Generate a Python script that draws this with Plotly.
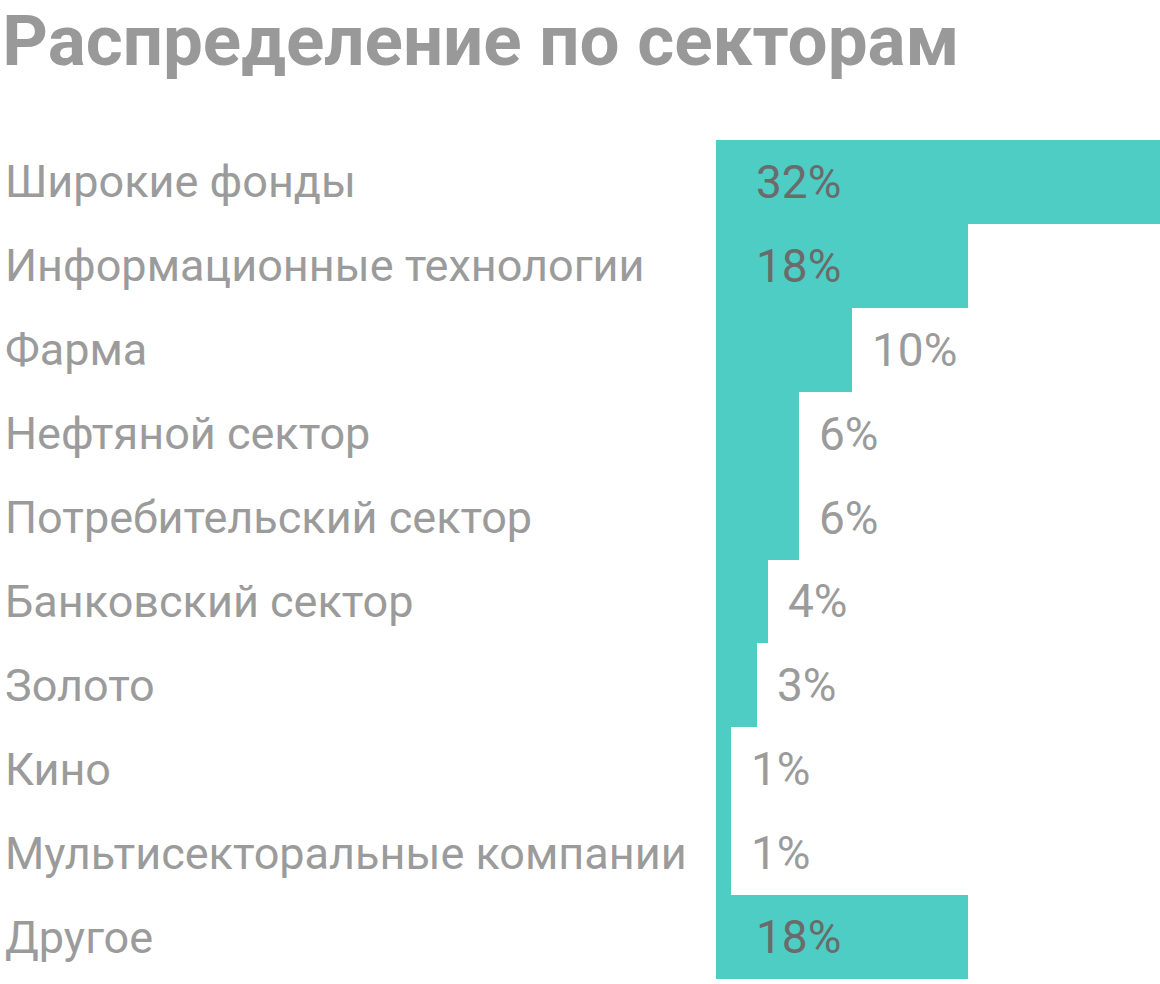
import plotly.graph_objects as go

# Data
categories = [
    "Широкие фонды",
    "Информационные технологии",
    "Фарма",
    "Нефтяной сектор",
    "Потребительский сектор",
    "Банковский сектор",
    "Золото",
    "Кино",
    "Мультисекторальные компании",
    "Другое",
]
shares = [32, 18, 9.7, 5.9, 5.9, 3.7, 2.9, 1.1, 1.1, 18]
share_labels = ["32%", "18%", "10%", "6%", "6%", "4%", "3%", "1%", "1%", "18%"]

teal = "#4ECDC4"
grey = "#9B9B9B"
dark = "#6B6B6B"
font = "Roboto"

fig = go.Figure()

fig.add_trace(go.Bar(
    y=categories,
    x=shares,
    orientation="h",
    marker=dict(color=teal, line=dict(width=0)),
    hoverinfo="skip",
))

annotations = []
for cat, val, lab in zip(categories, shares, share_labels):
    # category name on the left
    annotations.append(dict(
        xref="paper", yref="y", x=0, y=cat, xshift=3,
        xanchor="left", yanchor="middle", showarrow=False,
        text=cat, font=dict(family=font, size=45, color=grey),
    ))
    # value label: inside wide bars, after narrow ones
    inside = val > 12
    annotations.append(dict(
        xref="x", yref="y", x=0 if inside else val, y=cat,
        xshift=38 if inside else 18,
        xanchor="left", yanchor="middle", showarrow=False,
        text=lab, font=dict(family=font, size=46, color=dark if inside else grey),
    ))

fig.update_layout(
    width=1160,
    height=984,
    margin=dict(l=0, r=0, t=140, b=5),
    paper_bgcolor="white",
    plot_bgcolor="white",
    bargap=0,
    showlegend=False,
    title=dict(
        text="<b>Распределение по секторам</b>",
        x=0.002, xanchor="left", y=0.959, yanchor="middle",
        font=dict(family=font, size=71, color="#999999"),
    ),
    annotations=annotations,
)

fig.update_xaxes(domain=[716 / 1160, 1], range=[0, 31.7], visible=False, fixedrange=True)
fig.update_yaxes(autorange="reversed", visible=False, fixedrange=True)

fig.write_html(
    "out.html",
    config={"displayModeBar": False},
    post_script="document.body.style.margin='0';document.body.style.overflow='hidden';",
)
